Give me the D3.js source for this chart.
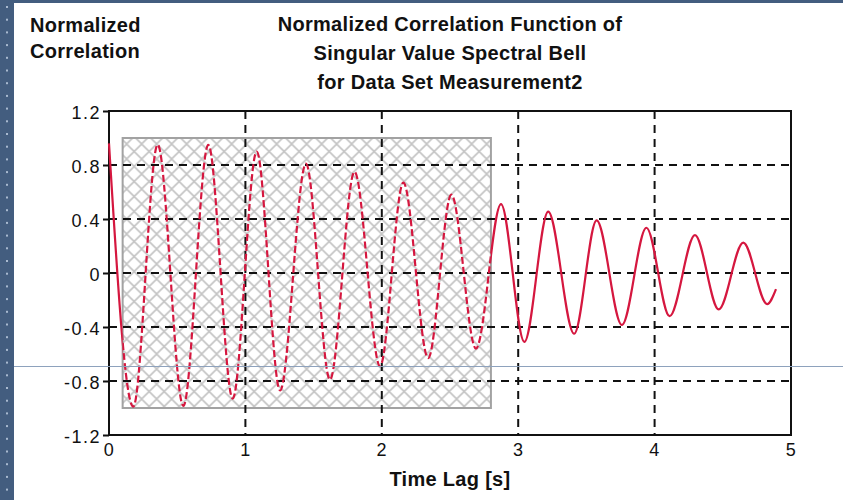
<!DOCTYPE html>
<meta charset="utf-8">
<head>
    <style>
        body {margin: 0; background: #fff;}
        svg {display: block;}
        text {font-family: "Liberation Sans", Arial, sans-serif; fill: #111;}
        .lbl {font-size: 20px; font-weight: bold; letter-spacing: 0.3px;}
        .grid line {stroke: #111; stroke-width: 2; stroke-dasharray: 8,6;}
        .axis text {font-size: 18px; letter-spacing: 1.5px;}
        .axis path {display: none;}
        .axis line {stroke: #111; stroke-width: 2;}
    </style>
    <script src="https://d3js.org/d3.v7.min.js"></script>
</head>
<body>
<script>

    // extrema of the correlation curve
    var lag  = [0, 0.178, 0.357, 0.545, 0.728, 0.907, 1.083, 1.254, 1.444, 1.62,
                1.80, 1.987, 2.158, 2.34, 2.51, 2.69, 2.874, 3.045, 3.22, 3.41,
                3.575, 3.76, 3.94, 4.11, 4.296, 4.47, 4.65, 4.825, 4.89];
    var corr = [0.96, -0.99, 0.95, -0.985, 0.95, -0.93, 0.90, -0.87, 0.81, -0.79,
                0.75, -0.69, 0.67, -0.63, 0.58, -0.56, 0.51, -0.51, 0.455, -0.45,
                0.39, -0.385, 0.335, -0.32, 0.28, -0.27, 0.225, -0.23, -0.12];

    var xTicks = [0, 1, 2, 3, 4, 5],
        xGrid = [1, 2, 3, 4],
        yTicks = [-1.2, -0.8, -0.4, 0, 0.4, 0.8, 1.2],
        yLabels = ["-1.2", "-0.8", "-0.4", "0", "0.4", "0.8", "1.2"],
        yGrid = [-0.8, -0.4, 0, 0.4, 0.8];

    // shaded window
    var hatchLag = [0.1, 2.8],
        hatchCorr = [-1, 1];

    var titleLines = ["Normalized Correlation Function of",
                      "Singular Value Spectral Bell",
                      "for Data Set Measurement2"],
        yTitle = ["Normalized", "Correlation"],
        xTitle = "Time Lag [s]";

    var W = 843, H = 500;
    var margin = {top: 111, right: 52, bottom: 65, left: 109},
        width = W - margin.left - margin.right,
        height = H - margin.top - margin.bottom;

    var x = d3.scaleLinear().domain([0, 5]).range([0, width]);
    var y = d3.scaleLinear().domain([-1.2, 1.2]).range([height, 0]);

    var root = d3.select("body").append("svg")
        .attr("width", W)
        .attr("height", H);

    var defs = root.append("defs");

    var pat = defs.append("pattern")
        .attr("id", "hatch")
        .attr("patternUnits", "userSpaceOnUse")
        .attr("width", 15)
        .attr("height", 15)
        .attr("x", margin.left + x(hatchLag[0]))
        .attr("y", margin.top + y(hatchCorr[1]));
    pat.append("rect").attr("width", 15).attr("height", 15).attr("fill", "#fff");
    pat.append("path")
        .attr("d", "M0,0L15,15M15,0L0,15M-1,14L1,16M14,-1L16,1")
        .attr("stroke", "#c4c4c4")
        .attr("stroke-width", 1.6);

    // page frame bits
    root.append("rect").attr("width", W).attr("height", H).attr("fill", "#fff");
    root.append("rect").attr("width", W).attr("height", 3).attr("fill", "#435d7f");
    root.append("rect").attr("width", 14).attr("height", H).attr("fill", "#435d7f");
    root.selectAll(".dot")
        .data(d3.range(6, H, 12.7))
      .enter().append("rect")
        .attr("class", "dot")
        .attr("x", 6).attr("y", function(d) {return d})
        .attr("width", 2).attr("height", 2)
        .attr("fill", "#a9bad0");

    var svg = root.append("g")
        .attr("transform", "translate(" + margin.left + "," + margin.top + ")");

    var hx = x(hatchLag[0]), hw = x(hatchLag[1]) - x(hatchLag[0]),
        hy = y(hatchCorr[1]), hh = y(hatchCorr[0]) - y(hatchCorr[1]);

    defs.append("clipPath").attr("id", "inside")
      .append("rect")
        .attr("x", margin.left + hx).attr("y", margin.top + hy)
        .attr("width", hw).attr("height", hh);

    var outside = defs.append("clipPath").attr("id", "outside");
    outside.append("rect")
        .attr("x", margin.left - 5).attr("y", 0)
        .attr("width", hx + 5).attr("height", H);
    outside.append("rect")
        .attr("x", margin.left + hx + hw).attr("y", 0)
        .attr("width", W).attr("height", H);

    svg.append("rect")
        .attr("x", hx).attr("y", hy)
        .attr("width", hw).attr("height", hh)
        .attr("fill", "url(#hatch)")
        .attr("stroke", "#a2a2a2")
        .attr("stroke-width", 2);

    var grid = svg.append("g").attr("class", "grid");
    grid.selectAll(".vx")
        .data(xGrid)
      .enter().append("line")
        .attr("x1", function(d) {return x(d)}).attr("x2", function(d) {return x(d)})
        .attr("y1", 0).attr("y2", height);
    grid.selectAll(".hy")
        .data(yGrid)
      .enter().append("line")
        .attr("x1", 0).attr("x2", width)
        .attr("y1", function(d) {return y(d)}).attr("y2", function(d) {return y(d)});

    var pts = lag.map(function(d, i) {return [d, corr[i]]});
    var line = d3.line()
        .x(function(d) {return x(d[0])})
        .y(function(d) {return y(d[1])})
        .curve(d3.curveMonotoneX);

    root.append("g")
        .attr("clip-path", "url(#inside)")
      .append("path")
        .attr("transform", "translate(" + margin.left + "," + margin.top + ")")
        .attr("d", line(pts))
        .attr("fill", "none")
        .attr("stroke", "#d5173f")
        .attr("stroke-width", 2.2)
        .attr("stroke-dasharray", "7,3");

    root.append("g")
        .attr("clip-path", "url(#outside)")
      .append("path")
        .attr("transform", "translate(" + margin.left + "," + margin.top + ")")
        .attr("d", line(pts))
        .attr("fill", "none")
        .attr("stroke", "#d5173f")
        .attr("stroke-width", 2.2);

    // frame
    svg.append("rect")
        .attr("width", width).attr("height", height)
        .attr("fill", "none")
        .attr("stroke", "#111")
        .attr("stroke-width", 2);

    svg.append("g")
        .attr("class", "axis")
        .call(d3.axisLeft(y)
            .tickValues(yTicks)
            .tickSize(6)
            .tickPadding(2)
            .tickFormat(function(d, i) {return yLabels[i]}))
      .selectAll("text")
        .attr("dy", "0.4em");

    svg.append("g")
        .attr("class", "axis")
        .attr("transform", "translate(0," + height + ")")
        .call(d3.axisBottom(x)
            .tickValues(xTicks)
            .tickSize(0)
            .tickPadding(8)
            .tickFormat(d3.format("d")))
      .selectAll("text")
        .attr("dy", "0.71em");

    root.selectAll(".title")
        .data(titleLines)
      .enter().append("text")
        .attr("class", "title lbl")
        .attr("x", margin.left + width / 2)
        .attr("y", function(d, i) {return 31 + i * 29})
        .attr("text-anchor", "middle")
        .text(function(d) {return d});

    root.selectAll(".ytitle")
        .data(yTitle)
      .enter().append("text")
        .attr("class", "ytitle lbl")
        .attr("x", 30)
        .attr("y", function(d, i) {return 32 + i * 26})
        .text(function(d) {return d});

    root.append("text")
        .attr("class", "lbl")
        .attr("x", margin.left + width / 2)
        .attr("y", 486)
        .attr("text-anchor", "middle")
        .text(xTitle);

    // stray rule across the page
    root.append("line")
        .attr("x1", 14).attr("x2", W)
        .attr("y1", 366.5).attr("y2", 366.5)
        .attr("stroke", "#8ea2bd")
        .attr("stroke-width", 1);

</script>
</body>
